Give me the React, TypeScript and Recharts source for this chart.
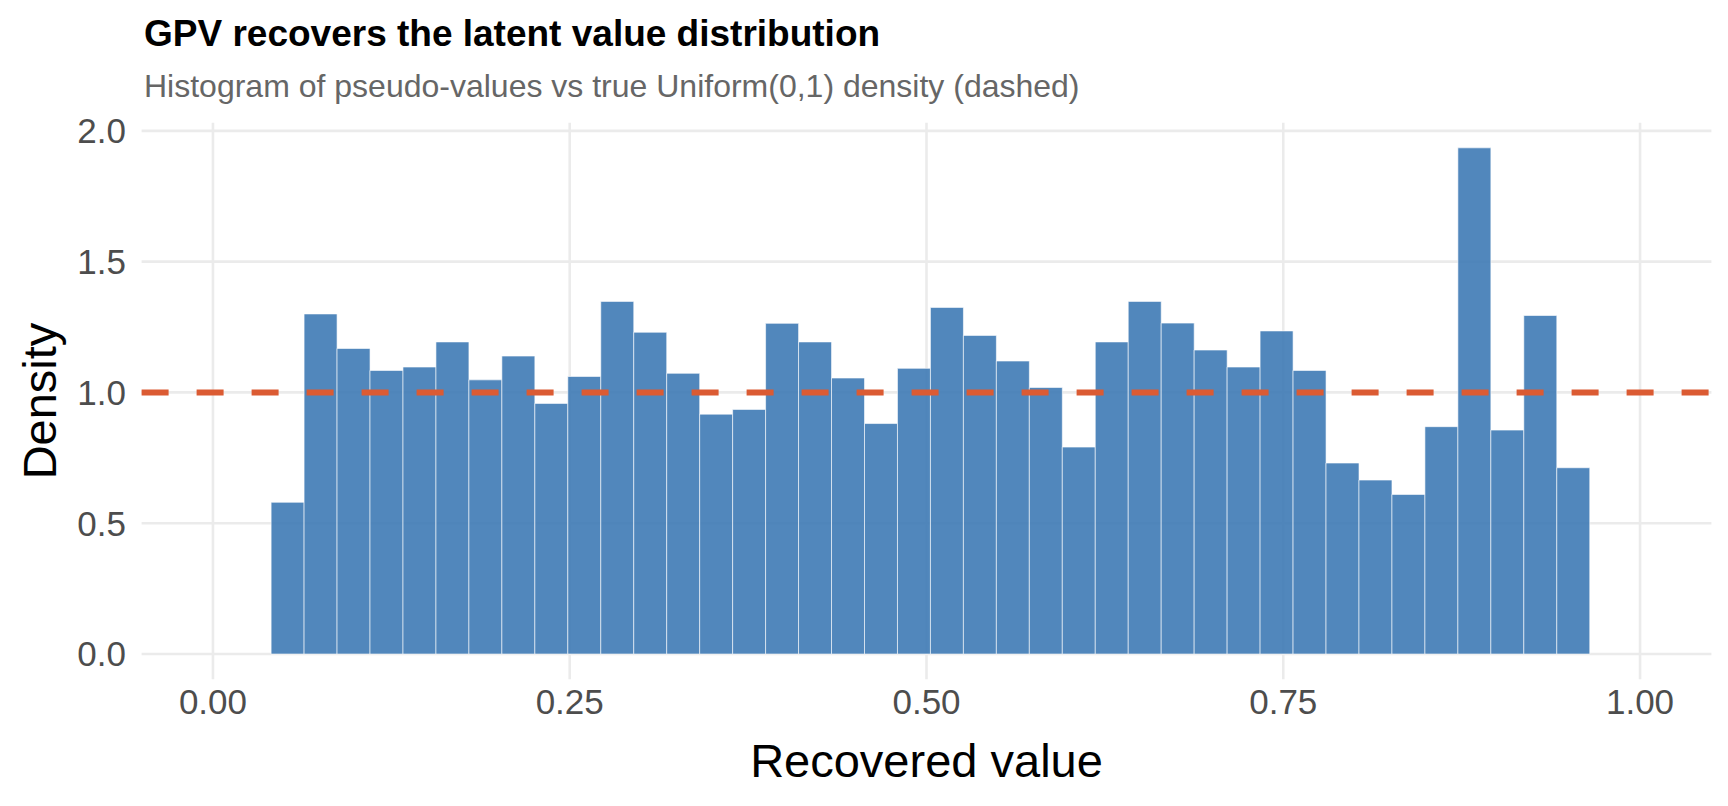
import { Bar, CartesianGrid, ComposedChart, ReferenceLine, XAxis, YAxis } from "recharts";

// histogram bins (centre of each bin) and their densities
const binCenters = [
  0.0523, 0.0754, 0.0985, 0.1216, 0.1447, 0.1678, 0.1909, 0.214, 0.2371, 0.2602,
  0.2833, 0.3064, 0.3295, 0.3526, 0.3757, 0.3988, 0.4219, 0.445, 0.4681, 0.4912,
  0.5143, 0.5374, 0.5605, 0.5836, 0.6067, 0.6298, 0.6529, 0.676, 0.6991, 0.7222,
  0.7453, 0.7684, 0.7915, 0.8146, 0.8377, 0.8608, 0.8839, 0.907, 0.9301, 0.9532,
];
const densities = [
  0.58, 1.3, 1.168, 1.084, 1.097, 1.193, 1.048, 1.139, 0.958, 1.061,
  1.348, 1.23, 1.073, 0.917, 0.935, 1.264, 1.193, 1.055, 0.881, 1.092,
  1.325, 1.218, 1.12, 1.019, 0.791, 1.193, 1.348, 1.265, 1.162, 1.097,
  1.235, 1.084, 0.73, 0.665, 0.61, 0.869, 1.935, 0.856, 1.294, 0.712,
];
const trueDensity = 1;
const xTicks = [0, 0.25, 0.5, 0.75, 1];
const yTicks = [0, 0.5, 1, 1.5, 2];

const data = binCenters.map((x, i) => ({ x, density: densities[i] }));

const font = "'Liberation Sans', Arial, Helvetica, sans-serif";
const tickStyle = { fontSize: 35, fill: "#4D4D4D", fontFamily: font };

export default function App() {
  return (
    <div style={{ position: "absolute", left: 0, top: 0, width: 1728, height: 806, background: "#fff", fontFamily: font }}>
      <div style={{ position: "absolute", left: 144, top: 15, fontSize: 37, lineHeight: 1, fontWeight: "bold", color: "#000", whiteSpace: "nowrap" }}>
        GPV recovers the latent value distribution
      </div>
      <div style={{ position: "absolute", left: 144, top: 70, fontSize: 32, lineHeight: 1, color: "#666666", whiteSpace: "nowrap" }}>
        Histogram of pseudo-values vs true Uniform(0,1) density (dashed)
      </div>
      <ComposedChart
        width={1728}
        height={806}
        data={data}
        margin={{ top: 122.8, right: 16.6, bottom: 66.7, left: 81.6 }}
        barCategoryGap={0}
        barGap={0}
      >
        <CartesianGrid
          stroke="#EBEBEB"
          strokeWidth={2.6}
          verticalValues={xTicks}
          horizontalValues={yTicks}
        />
        <XAxis
          dataKey="x"
          type="number"
          domain={[-0.05, 1.05]}
          ticks={xTicks}
          allowDataOverflow
          height={60}
          axisLine={false}
          tickLine={false}
          tickSize={0}
          tickMargin={10}
          tick={tickStyle}
          tickFormatter={(v: number) => v.toFixed(2)}
        />
        <YAxis
          type="number"
          domain={[-0.0967, 2.0307]}
          ticks={yTicks}
          allowDataOverflow
          width={60}
          axisLine={false}
          tickLine={false}
          tickSize={0}
          tickMargin={15.6}
          tick={tickStyle}
          tickFormatter={(v: number) => v.toFixed(1)}
        />
        <Bar
          dataKey="density"
          fill="#3E7AB5"
          fillOpacity={0.9}
          stroke="#FFFFFF"
          strokeOpacity={0.6}
          strokeWidth={1}
          isAnimationActive={false}
        />
        <ReferenceLine y={trueDensity} stroke="#DB5B33" strokeWidth={6} strokeDasharray="27 28" />
      </ComposedChart>
      <div style={{ position: "absolute", left: 926.5, top: 737, transform: "translateX(-50%)", fontSize: 47, lineHeight: 1, color: "#000", whiteSpace: "nowrap" }}>
        Recovered value
      </div>
      <div style={{ position: "absolute", left: 38.6, top: 401, transform: "translate(-50%, -50%) rotate(-90deg)", fontSize: 47, lineHeight: 1, color: "#000", whiteSpace: "nowrap" }}>
        Density
      </div>
    </div>
  );
}
